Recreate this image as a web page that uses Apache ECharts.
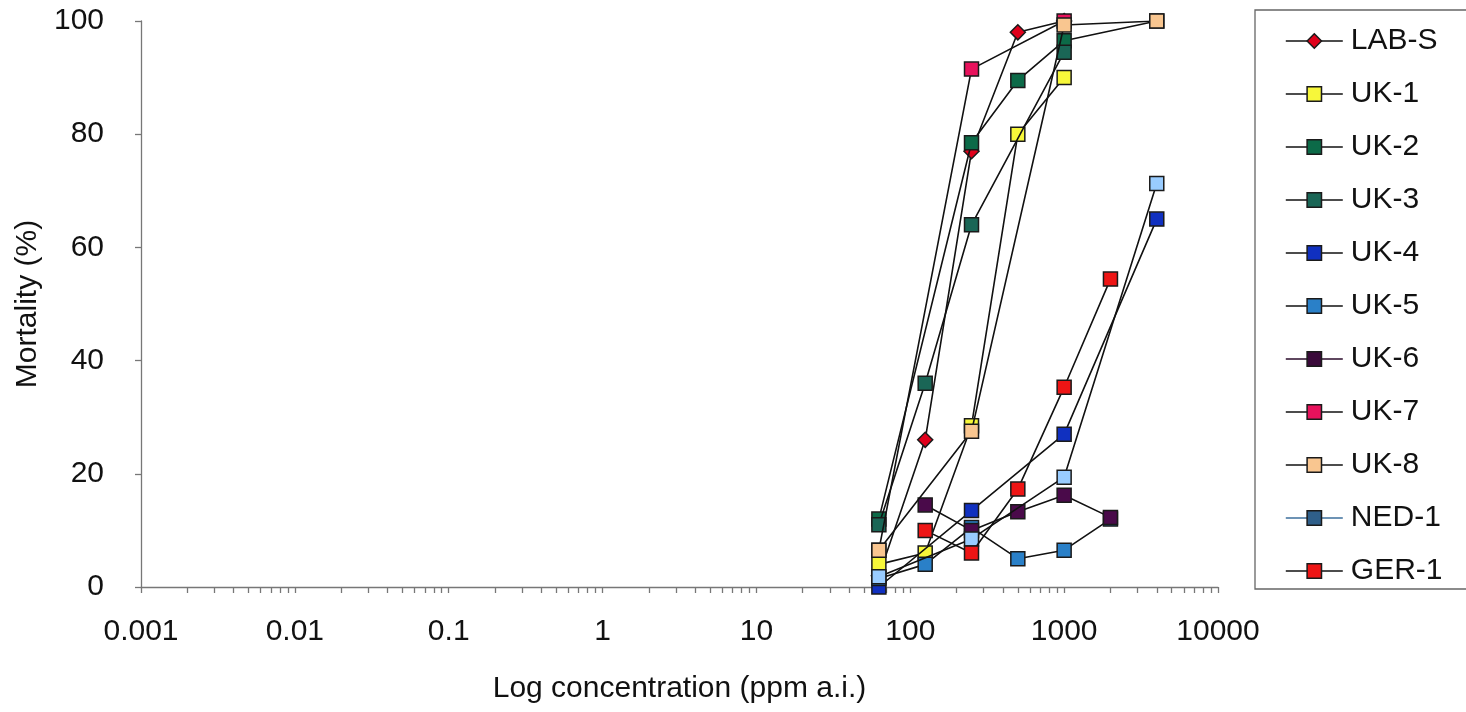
<!DOCTYPE html>
<html>
<head>
<meta charset="utf-8">
<script src="https://cdn.jsdelivr.net/npm/echarts@6/dist/echarts.min.js"></script>
<style>
html,body{margin:0;padding:0;background:#fff;}
#chart{width:1466px;height:712px;}
</style>
</head>
<body>
<div id="chart"></div>
<script>
// concentrations (ppm a.i.)
const concentrations = [62.5, 125, 250, 500, 1000, 2000, 4000];
// mortality (%) per strain, null = not tested / not plotted
const labS  = [2, 26, 77, 98, 100, null, null];
const uk1   = [4, 6, 28.5, 80, 90, null, null];
const uk2   = [12, null, 78.5, 89.5, 96.5, null, 100];
const uk3   = [11, 36, 64, null, 94.5, null, null];
const uk4   = [0, null, 13.5, null, 27, null, 65];
const uk5   = [1.5, 4, 10.5, 5, 6.5, 12, null];
const uk6   = [null, 14.5, 10, 13.3, 16.2, 12.3, null];
const uk7   = [6.5, null, 91.5, null, 100, null, null];
const uk8   = [6.5, null, 27.5, null, 99.3, null, 100];
const ned1  = [1.8, null, 8.5, null, 19.4, null, 71.3];
const ger1  = [null, 10, 6, 17.3, 35.3, 54.4, null];

const seriesNames = ['LAB-S','UK-1','UK-2','UK-3','UK-4','UK-5','UK-6','UK-7','UK-8','NED-1','GER-1'];
const seriesValues = [labS, uk1, uk2, uk3, uk4, uk5, uk6, uk7, uk8, ned1, ger1];
const decadeTicks = [0.001, 0.01, 0.1, 1, 10, 100, 1000, 10000];
const decadeLabels = ['0.001','0.01','0.1','1','10','100','1000','10000'];
const yTicks = [0, 20, 40, 60, 80, 100];

const markerColors = ['#e0001b','#f7f73a','#0c6a48','#1a6656','#1030c0','#2a80c8','#4a0a4a','#e8125c','#f9c690','#99ccff','#ee1515'];
const legendColors = ['#e0001b','#f7f73a','#0c6a48','#1a6656','#1030c0','#2a80c8','#3a0a3a','#e8125c','#f9c690','#2f5f8a','#ee1515'];
const legendLineColors = ['#111','#111','#111','#111','#111','#111','#2a0a2a','#111','#111','#3d6f9c','#111'];

// tick positions 1..9 within each decade
const tickVals = [];
for (let d = 0; d < decadeTicks.length - 1; d++) {
  for (let k = 1; k <= 9; k++) tickVals.push(+(decadeTicks[d] * k).toPrecision(6));
}
tickVals.push(decadeTicks[decadeTicks.length - 1]);

const FONT = 'Liberation Sans, Arial, sans-serif';
const FS = 30;

const series = seriesNames.map((name, i) => ({
  name: name,
  type: 'line',
  data: concentrations.map((c, j) => seriesValues[i][j] == null ? null : [c, seriesValues[i][j]]).filter(p => p !== null),
  symbol: name === 'LAB-S' ? 'diamond' : 'rect',
  symbolSize: name === 'LAB-S' ? 15 : 14,
  lineStyle: { color: '#111', width: 1.6 },
  itemStyle: { color: markerColors[i], borderColor: '#1a1a1a', borderWidth: 1.5 },
  emphasis: { disabled: true },
  animation: false,
  z: 2 + i
}));

const chart = echarts.init(document.getElementById('chart'), null, { renderer: 'canvas' });
chart.setOption({
  backgroundColor: '#ffffff',
  animation: false,
  grid: { left: 141, right: 248, top: 21, bottom: 125, containLabel: false },
  xAxis: {
    type: 'log',
    logBase: 10,
    min: 0.001,
    max: 10000,
    name: 'Log concentration (ppm a.i.)',
    nameLocation: 'middle',
    nameGap: 87,
    nameTextStyle: { fontFamily: FONT, fontSize: FS, color: '#111' },
    axisLine: { show: true, onZero: false, lineStyle: { color: '#777', width: 1.3 } },
    axisTick: { show: true, inside: false, length: 6, customValues: tickVals, lineStyle: { color: '#777', width: 1.3 } },
    axisLabel: {
      fontFamily: FONT, fontSize: FS, color: '#111', margin: 30,
      customValues: decadeTicks,
      formatter: function (v) {
        const idx = decadeTicks.findIndex(t => Math.abs(Math.log10(t) - Math.log10(v)) < 1e-6);
        return idx >= 0 ? decadeLabels[idx] : '';
      }
    },
    splitLine: { show: false }
  },
  yAxis: {
    type: 'value',
    min: 0,
    max: 100,
    interval: 20,
    name: 'Mortality (%)',
    nameLocation: 'middle',
    nameGap: 96,
    nameTextStyle: { fontFamily: FONT, fontSize: FS, color: '#111' },
    axisLine: { show: true, lineStyle: { color: '#777', width: 1.3 } },
    axisTick: { show: true, inside: false, length: 6, lineStyle: { color: '#777', width: 1.3 } },
    axisLabel: { fontFamily: FONT, fontSize: FS, color: '#111', margin: 37,
      formatter: function (v) { return yTicks.indexOf(v) >= 0 ? String(v) : ''; } },
    splitLine: { show: false }
  },
  legend: {
    orient: 'vertical',
    left: 1255,
    top: 10,
    padding: [16, 300, 3, 30],
    borderColor: '#666',
    borderWidth: 1.3,
    itemWidth: 57,
    itemHeight: 18,
    itemGap: 23,
    selectedMode: false,
    textStyle: { fontFamily: FONT, fontSize: FS, color: '#111', padding: [0, 0, 0, 3] },
    data: seriesNames.map((n, i) => ({
      name: n,
      itemStyle: { color: legendColors[i], borderColor: '#1a1a1a', borderWidth: 1.5 },
      lineStyle: { color: legendLineColors[i], width: 1.6 }
    }))
  },
  series: series
});
</script>
</body>
</html>
